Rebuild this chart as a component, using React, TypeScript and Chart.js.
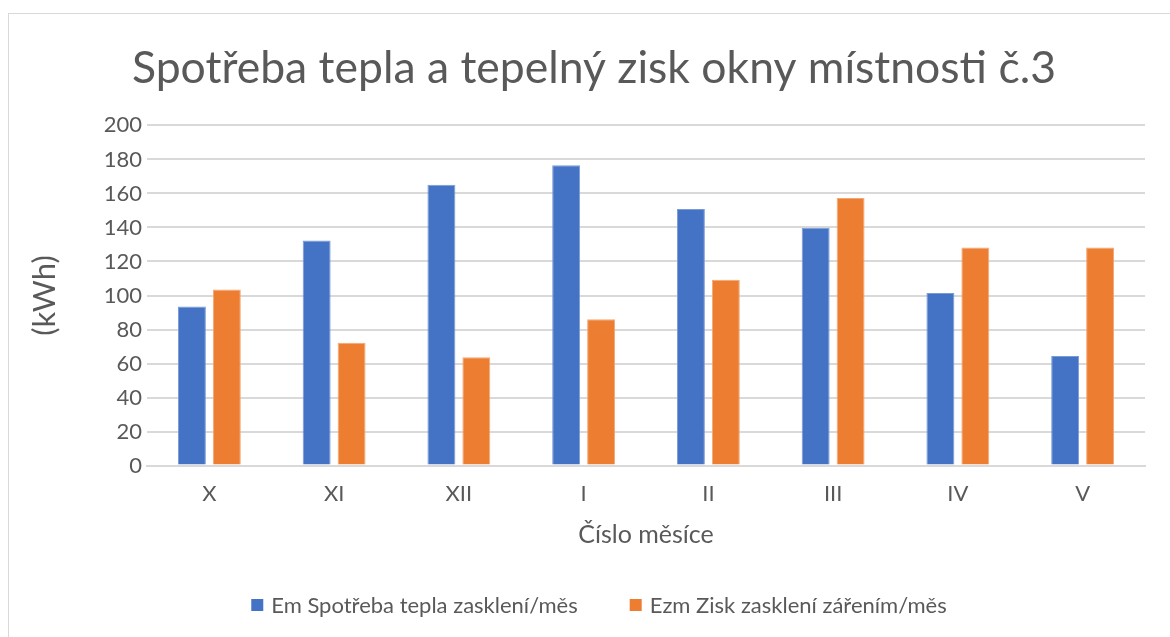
import React, { useEffect, useRef } from "react";
import { Chart, registerables } from "chart.js";

Chart.register(...registerables);

const categories = ["X", "XI", "XII", "I", "II", "III", "IV", "V"];
const spotreba = [93.5, 132.4, 165.1, 176.5, 150.8, 139.8, 101.4, 64.5];
const zisk = [103.5, 72.2, 63.7, 86.1, 109.2, 157.3, 128.2, 128.2];
const seriesNames = ["Em Spotřeba tepla zasklení/měs", "Ezm Zisk zasklení zářením/měs"];
const titleText = "Spotřeba tepla a tepelný zisk okny místnosti č.3";
const yTitle = "(kWh)";
const xTitle = "Číslo měsíce";

const FONT = "Lato, 'Noto Sans', sans-serif";
const GREY = "#595959";

const legendPlugin = {
  id: "customLegend",
  afterDraw(chart: any) {
    const ctx = chart.ctx;
    const size = 22;
    ctx.save();
    ctx.font = `${size}px ${FONT}`;
    ctx.textBaseline = "middle";
    ctx.textAlign = "left";
    const box = 12;
    const gapText = 8;
    const gapItems = 52;
    const items = chart.data.datasets.map((d: any) => ({
      text: d.label,
      color: d.backgroundColor,
      w: ctx.measureText(d.label).width,
    }));
    let total = 0;
    items.forEach((it: any, i: number) => {
      total += box + gapText + it.w + (i > 0 ? gapItems : 0);
    });
    let x = 590 - total / 2;
    const y = 591;
    items.forEach((it: any, i: number) => {
      if (i > 0) x += gapItems;
      ctx.fillStyle = it.color;
      ctx.fillRect(x, y - box / 2, box, box);
      x += box + gapText;
      ctx.fillStyle = GREY;
      ctx.fillText(it.text, x, y + 1);
      x += it.w;
    });
    ctx.restore();
  },
};

export default function App() {
  const ref = useRef<HTMLCanvasElement>(null);
  useEffect(() => {
    if (!ref.current) return;
    const chart = new Chart(ref.current, {
      type: "bar",
      data: {
        labels: categories,
        datasets: [
          {
            label: seriesNames[0],
            data: spotreba,
            backgroundColor: "#4472C4",
            borderColor: "#7a9ad6",
            borderWidth: 1,
            categoryPercentage: 0.56,
            barPercentage: 0.8,
          },
          {
            label: seriesNames[1],
            data: zisk,
            backgroundColor: "#ED7D31",
            borderColor: "#f3a874",
            borderWidth: 1,
            categoryPercentage: 0.56,
            barPercentage: 0.8,
          },
        ],
      },
      plugins: [legendPlugin],
      options: {
        animation: false,
        responsive: false,
        layout: { padding: { left: 34, right: 25, top: 0, bottom: 87 } },
        plugins: {
          title: {
            display: true,
            text: titleText,
            color: GREY,
            font: { family: FONT, size: 44.5, weight: "normal" },
            padding: { top: 28, bottom: 30 },
          },
          legend: { display: false },
          tooltip: { enabled: false },
        },
        scales: {
          x: {
            grid: { display: false },
            border: { color: "#d9d9d9", width: 2 },
            ticks: { color: GREY, font: { family: FONT, size: 22 }, padding: 7 },
            title: {
              display: true,
              text: xTitle,
              color: GREY,
              font: { family: FONT, size: 25 },
              padding: { top: 6, bottom: 0 },
            },
          },
          y: {
            min: 0,
            max: 200,
            afterFit: (scale: any) => {
              scale.width = 104;
            },
            ticks: { stepSize: 20, color: GREY, font: { family: FONT, size: 22 }, padding: 5 },
            grid: { color: "#d9d9d9", lineWidth: 2, drawTicks: false },
            border: { display: false },
            title: {
              display: true,
              text: yTitle,
              color: GREY,
              font: { family: FONT, size: 31 },
              padding: { top: -17, bottom: 0 },
            },
          },
        },
      },
    });
    return () => chart.destroy();
  }, []);
  return (
    <div
      style={{
        position: "fixed",
        left: 8,
        top: 13,
        width: 1162,
        height: 624,
        borderTop: "1px solid #d9d9d9",
        borderLeft: "1px solid #d9d9d9",
        background: "#fff",
      }}
    >
      <canvas ref={ref} width={1161} height={623} style={{ display: "block" }} />
    </div>
  );
}
